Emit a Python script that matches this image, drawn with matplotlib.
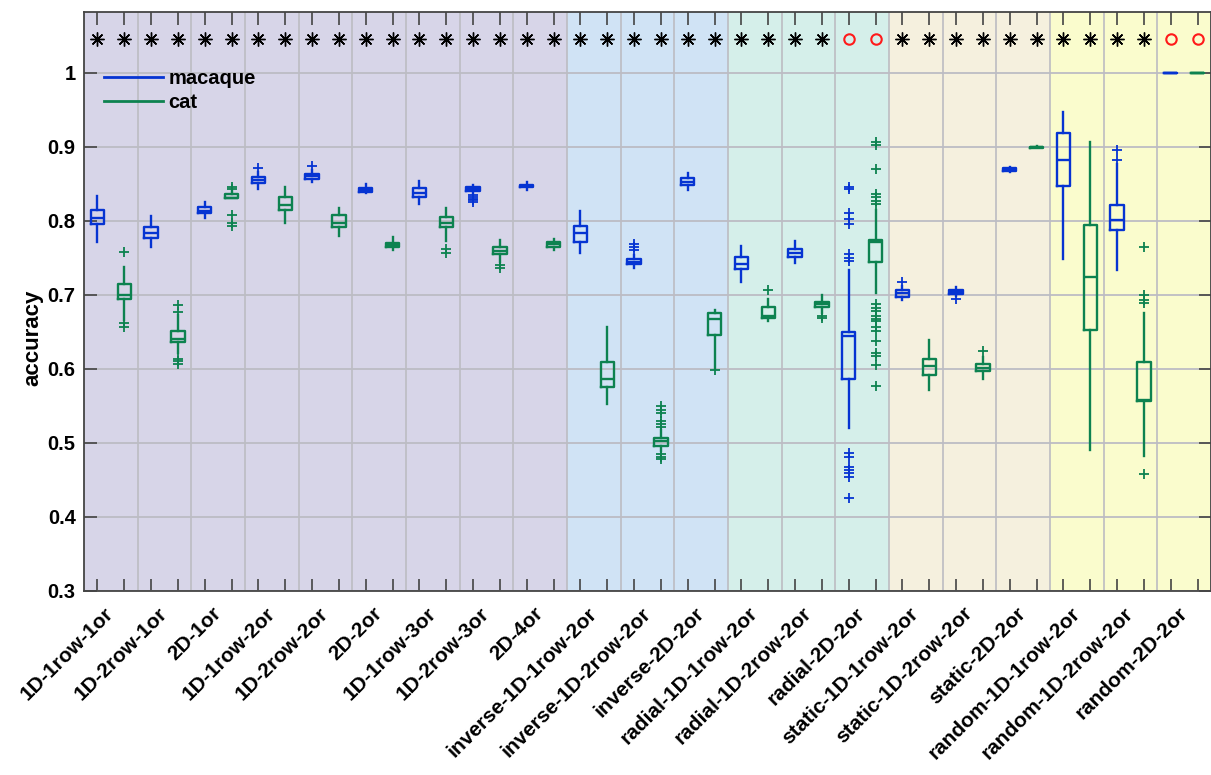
import numpy as np
import matplotlib.pyplot as plt
from matplotlib.lines import Line2D

plt.rcParams['font.family'] = ['Liberation Sans', 'DejaVu Sans']
plt.rcParams['font.weight'] = 'bold'

# Stimulus conditions (one pair of boxes per condition)
conditions = ['1D-1row-1or', '1D-2row-1or', '2D-1or', '1D-1row-2or', '1D-2row-2or',
              '2D-2or', '1D-1row-3or', '1D-2row-3or', '2D-4or',
              'inverse-1D-1row-2or', 'inverse-1D-2row-2or', 'inverse-2D-2or',
              'radial-1D-1row-2or', 'radial-1D-2row-2or', 'radial-2D-2or',
              'static-1D-1row-2or', 'static-1D-2row-2or', 'static-2D-2or',
              'random-1D-1row-2or', 'random-1D-2row-2or', 'random-2D-2or']

# Background groups
group_sizes = [9, 3, 3, 3, 3]
group_colors = ['#d7d5e8', '#d0e3f5', '#d5efea', '#f5f0de', '#fafccd']

# Box statistics, macaque
mac_lo  = [0.772, 0.765, 0.804, 0.843, 0.853, 0.837, 0.823, 0.838, 0.842,
           0.757, 0.736, 0.841, 0.718, 0.743, 0.520, 0.693, 0.698, 0.866,
           0.748, 0.733, 1.000]
mac_q1  = [0.796, 0.777, 0.810, 0.851, 0.857, 0.839, 0.832, 0.840, 0.845,
           0.772, 0.741, 0.848, 0.735, 0.751, 0.587, 0.697, 0.701, 0.867,
           0.847, 0.787, 1.000]
mac_med = [0.804, 0.784, 0.813, 0.855, 0.860, 0.842, 0.837, 0.843, 0.847,
           0.783, 0.745, 0.853, 0.741, 0.756, 0.645, 0.702, 0.704, 0.869,
           0.882, 0.801, 1.000]
mac_q3  = [0.814, 0.791, 0.818, 0.859, 0.863, 0.844, 0.844, 0.846, 0.849,
           0.793, 0.749, 0.858, 0.751, 0.762, 0.650, 0.707, 0.706, 0.871,
           0.919, 0.822, 1.000]
mac_hi  = [0.834, 0.806, 0.826, 0.866, 0.868, 0.850, 0.854, 0.849, 0.853,
           0.813, 0.754, 0.865, 0.766, 0.773, 0.733, 0.712, 0.711, 0.873,
           0.947, 0.877, 1.000]
mac_fliers = [[], [], [], [0.871], [0.874], [], [], [0.835, 0.832, 0.830, 0.828, 0.826], [],
              [], [0.760, 0.765, 0.768], [], [], [],
              [0.845, 0.843, 0.811, 0.803, 0.796, 0.755, 0.750, 0.746,
               0.486, 0.481, 0.468, 0.464, 0.459, 0.454, 0.426],
              [0.718], [0.694], [], [], [0.882, 0.896], []]

# Box statistics, cat
cat_lo  = [0.666, 0.622, 0.831, 0.797, 0.779, 0.760, 0.773, 0.745, 0.760,
           0.552, 0.489, 0.600, 0.664, 0.676, 0.703, 0.572, 0.586, 0.898,
           0.490, 0.482, 1.000]
cat_q1  = [0.695, 0.636, 0.831, 0.814, 0.791, 0.764, 0.791, 0.755, 0.765,
           0.575, 0.496, 0.646, 0.669, 0.683, 0.744, 0.592, 0.597, 0.898,
           0.652, 0.556, 1.000]
cat_med = [0.700, 0.640, 0.831, 0.821, 0.797, 0.767, 0.797, 0.759, 0.768,
           0.586, 0.502, 0.668, 0.672, 0.687, 0.772, 0.604, 0.601, 0.899,
           0.724, 0.558, 1.000]
cat_q3  = [0.715, 0.651, 0.836, 0.832, 0.808, 0.770, 0.805, 0.764, 0.771,
           0.609, 0.506, 0.675, 0.684, 0.690, 0.774, 0.613, 0.607, 0.900,
           0.794, 0.609, 1.000]
cat_hi  = [0.737, 0.673, 0.840, 0.846, 0.817, 0.778, 0.817, 0.774, 0.776,
           0.656, 0.517, 0.680, 0.694, 0.700, 0.815, 0.639, 0.616, 0.901,
           0.907, 0.676, 1.000]
cat_fliers = [[0.758, 0.662, 0.656], [0.677, 0.686, 0.613, 0.610, 0.607],
              [0.843, 0.845, 0.808, 0.797, 0.793], [], [], [], [0.762, 0.757],
              [0.740, 0.736], [], [],
              [0.521, 0.526, 0.530, 0.541, 0.545, 0.550, 0.485, 0.481, 0.478],
              [0.598], [0.706], [0.672, 0.669],
              [0.906, 0.903, 0.870, 0.836, 0.832, 0.827, 0.823, 0.688, 0.682, 0.678,
               0.671, 0.667, 0.664, 0.657, 0.651, 0.638, 0.621, 0.617, 0.605, 0.577],
              [], [0.624], [], [], [0.765, 0.700, 0.693, 0.689, 0.458], []]

# Significance per condition (True: asterisk, False: open circle)
significant = [True, True, True, True, True, True, True, True, True,
               True, True, True, True, True, False,
               True, True, True, True, True, False]

mac_color = '#0634d2'
cat_color = '#0d8250'

n = len(conditions)
mac_pos = np.arange(n) * 2 + 1
cat_pos = np.arange(n) * 2 + 2

fig = plt.figure(figsize=(12.11, 7.75), dpi=100)
ax = fig.add_axes([84 / 1211, 1 - 591 / 775, 1 - 84 / 1211, (591 - 12) / 775])

# coloured group backgrounds
start = 0.5
for size, col in zip(group_sizes, group_colors):
    ax.axvspan(start, start + 2 * size, color=col, lw=0, zorder=0)
    start += 2 * size

# condition separators + horizontal grid
for xs in np.arange(2.5, 2 * n, 2):
    ax.axvline(xs, color='#bcbcc2', lw=1.2, zorder=0.5)
ax.set_axisbelow(True)
ax.yaxis.grid(True, color='#bcbcc4', lw=1.3, zorder=0.5)


def make_stats(lo, q1, med, q3, hi, fl):
    return [dict(whislo=a, q1=b, med=c, q3=d, whishi=e, fliers=f)
            for a, b, c, d, e, f in zip(lo, q1, med, q3, hi, fl)]


for stats, pos, col in [(make_stats(mac_lo, mac_q1, mac_med, mac_q3, mac_hi, mac_fliers), mac_pos, mac_color),
                        (make_stats(cat_lo, cat_q1, cat_med, cat_q3, cat_hi, cat_fliers), cat_pos, cat_color)]:
    ax.bxp(stats, positions=pos, widths=0.5, showcaps=False, manage_ticks=False,
           boxprops=dict(color=col, lw=1.7),
           whiskerprops=dict(color=col, lw=1.7),
           medianprops=dict(color=col, lw=1.7),
           flierprops=dict(marker='+', markeredgecolor=col, markersize=7,
                           markeredgewidth=1.3, linestyle='none'))

# significance markers along the top
sig_x = [p for pair in zip(mac_pos, cat_pos) for p in pair]
sig_flag = [s for s in significant for _ in range(2)]
star_x = [x for x, s in zip(sig_x, sig_flag) if s]
circ_x = [x for x, s in zip(sig_x, sig_flag) if not s]
ax.plot(star_x, [1.045] * len(star_x), ls='none', marker=(8, 2, 0),
        ms=10, mew=1.0, color='k', zorder=5)
ax.plot(circ_x, [1.045] * len(circ_x), ls='none', marker='o', mfc='none',
        mec='#ff1a1a', ms=7.5, mew=1.5, zorder=5)

ax.set_xlim(0.5, 2 * n + 0.5)
ax.set_ylim(0.3, 1.082)

ax.set_xticks(np.arange(1, 2 * n + 1))
ax.set_xticklabels([])
ax.set_xticks(mac_pos + 0.5, minor=True)
ax.set_xticklabels(conditions, minor=True, rotation=45, ha='right', va='center',
                   rotation_mode='anchor', fontsize=15, fontweight='bold')
ax.tick_params(axis='x', which='minor', length=0, pad=14)

yt = np.round(np.arange(0.3, 1.01, 0.1), 1)
ax.set_yticks(yt)
ax.set_yticklabels([('%g' % v) for v in yt], fontsize=14.5, fontweight='bold')
ax.tick_params(axis='both', which='major', direction='in', length=9,
               width=1.2, color='#444444', top=True, right=True)
ax.tick_params(axis='y', which='major', pad=6)

for sp in ax.spines.values():
    sp.set_color('#444444')
    sp.set_linewidth(1.3)

ax.set_ylabel('accuracy', fontsize=16, fontweight='bold')
ax.yaxis.set_label_coords(-0.036, 0.437)

handles = [Line2D([], [], color=mac_color, lw=2),
           Line2D([], [], color=cat_color, lw=2)]
ax.legend(handles, ['macaque', 'cat'], loc='upper left',
          bbox_to_anchor=(0.018, 0.902), frameon=False, borderpad=0,
          borderaxespad=0, handlelength=2.9, handletextpad=0.3,
          labelspacing=0.25, prop=dict(size=14.5, weight='bold'))

fig.savefig('out.png', dpi=100)
